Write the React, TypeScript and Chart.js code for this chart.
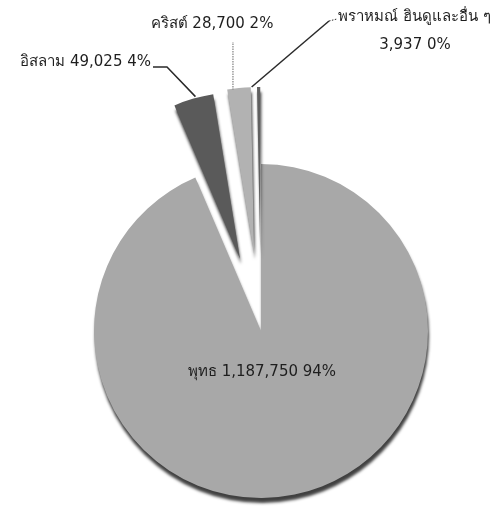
import React, { useEffect, useRef } from "react";
import { Chart, registerables } from "chart.js";

Chart.register(...registerables);

const categories = ["พุทธ", "อิสลาม", "คริสต์", "พราหมณ์ ฮินดูและอื่น ๆ"];
const values = [1187750, 49025, 28700, 3937];
const percentLabels = ["94%", "4%", "2%", "0%"];
const colors = ["#a8a8a8", "#5a5a5a", "#b2b2b2", "#606060"];

// styling / layout of exploded slices and label annotations
const EXPLODE = [0, 75, 77, 77];
const FONT = "15px 'DejaVu Sans', Tahoma, sans-serif";

const fmt = (v: number) => v.toLocaleString("en-US");

const explodePlugin = {
  id: "explode",
  afterDatasetUpdate(chart: any, args: any) {
    const meta = args.meta;
    meta.data.forEach((arc: any, i: number) => {
      const d = EXPLODE[i] || 0;
      if (!d) return;
      const mid = (arc.startAngle + arc.endAngle) / 2;
      arc.x += Math.cos(mid) * d;
      arc.y += Math.sin(mid) * d;
    });
  },
};

const shadowPlugin = {
  id: "pieShadow",
  beforeDatasetDraw(chart: any) {
    const ctx = chart.ctx;
    ctx.save();
    ctx.shadowColor = "rgba(0,0,0,0.75)";
    ctx.shadowBlur = 3;
    ctx.shadowOffsetX = 1;
    ctx.shadowOffsetY = 5;
  },
  afterDatasetDraw(chart: any) {
    chart.ctx.restore();
  },
};

const labelPlugin = {
  id: "sliceLabels",
  afterDatasetsDraw(chart: any) {
    const ctx = chart.ctx;
    const arcs = chart.getDatasetMeta(0).data;
    const outer = (arc: any) => {
      const mid = (arc.startAngle + arc.endAngle) / 2;
      return [arc.x + Math.cos(mid) * arc.outerRadius, arc.y + Math.sin(mid) * arc.outerRadius];
    };
    ctx.save();
    ctx.font = FONT;
    ctx.fillStyle = "#1e1e1e";
    ctx.textBaseline = "middle";

    // Buddhism – inside
    const a0 = arcs[0];
    ctx.textAlign = "center";
    ctx.fillText(`${categories[0]} ${fmt(values[0])} ${percentLabels[0]}`, a0.x + 1, a0.y + 41);

    // Islam – left
    const [ix, iy] = outer(arcs[1]);
    ctx.strokeStyle = "#2a2a2a";
    ctx.lineWidth = 1.5;
    ctx.beginPath();
    ctx.moveTo(ix + 2, iy - 2);
    ctx.lineTo(167, 67);
    ctx.lineTo(153, 67);
    ctx.stroke();
    ctx.textAlign = "right";
    ctx.fillText(`${categories[1]} ${fmt(values[1])} ${percentLabels[1]}`, 151, 62);

    // Christian – top
    const [cx, cy] = outer(arcs[2]);
    ctx.strokeStyle = "#9a9a9a";
    ctx.lineWidth = 1.5;
    ctx.setLineDash([1.5, 1]);
    ctx.beginPath();
    ctx.moveTo(cx - 6, cy + 2);
    ctx.lineTo(cx - 6, 42);
    ctx.stroke();
    ctx.setLineDash([]);
    ctx.textAlign = "center";
    ctx.fillText(`${categories[2]} ${fmt(values[2])} ${percentLabels[2]}`, 212, 24);

    // Brahmin / Hindu / others – top right
    const [bx, by] = outer(arcs[3]);
    ctx.strokeStyle = "#2a2a2a";
    ctx.lineWidth = 1.5;
    ctx.beginPath();
    ctx.moveTo(bx - 7, by);
    ctx.lineTo(329, 21);
    ctx.stroke();
    ctx.setLineDash([1.5, 1.5]);
    ctx.lineWidth = 1;
    ctx.beginPath();
    ctx.moveTo(329, 21);
    ctx.lineTo(337, 19);
    ctx.stroke();
    ctx.setLineDash([]);
    ctx.textAlign = "left";
    ctx.fillText(categories[3], 338, 17);
    ctx.textAlign = "center";
    ctx.fillText(`${fmt(values[3])} ${percentLabels[3]}`, 415, 45);
    ctx.restore();
  },
};

export default function App() {
  const ref = useRef<HTMLCanvasElement | null>(null);
  useEffect(() => {
    if (!ref.current) return;
    const chart = new Chart(ref.current, {
      type: "pie",
      data: {
        labels: categories,
        datasets: [
          {
            data: values,
            backgroundColor: colors,
            borderWidth: 0,
            radius: 167,
            clip: false as any,
          } as any,
        ],
      },
      options: {
        responsive: false,
        animation: false,
        rotation: 0,
        layout: { padding: { left: 20, right: 0, top: 154, bottom: 0 } },
        plugins: {
          legend: { display: false },
          tooltip: { enabled: false },
          title: { display: false },
        },
      },
      plugins: [explodePlugin, shadowPlugin, labelPlugin],
    });
    return () => chart.destroy();
  }, []);
  return (
    <div style={{ position: "absolute", left: 0, top: 0, width: 502, height: 508, background: "#fff" }}>
      <canvas ref={ref} width={502} height={508} style={{ display: "block" }} />
    </div>
  );
}
